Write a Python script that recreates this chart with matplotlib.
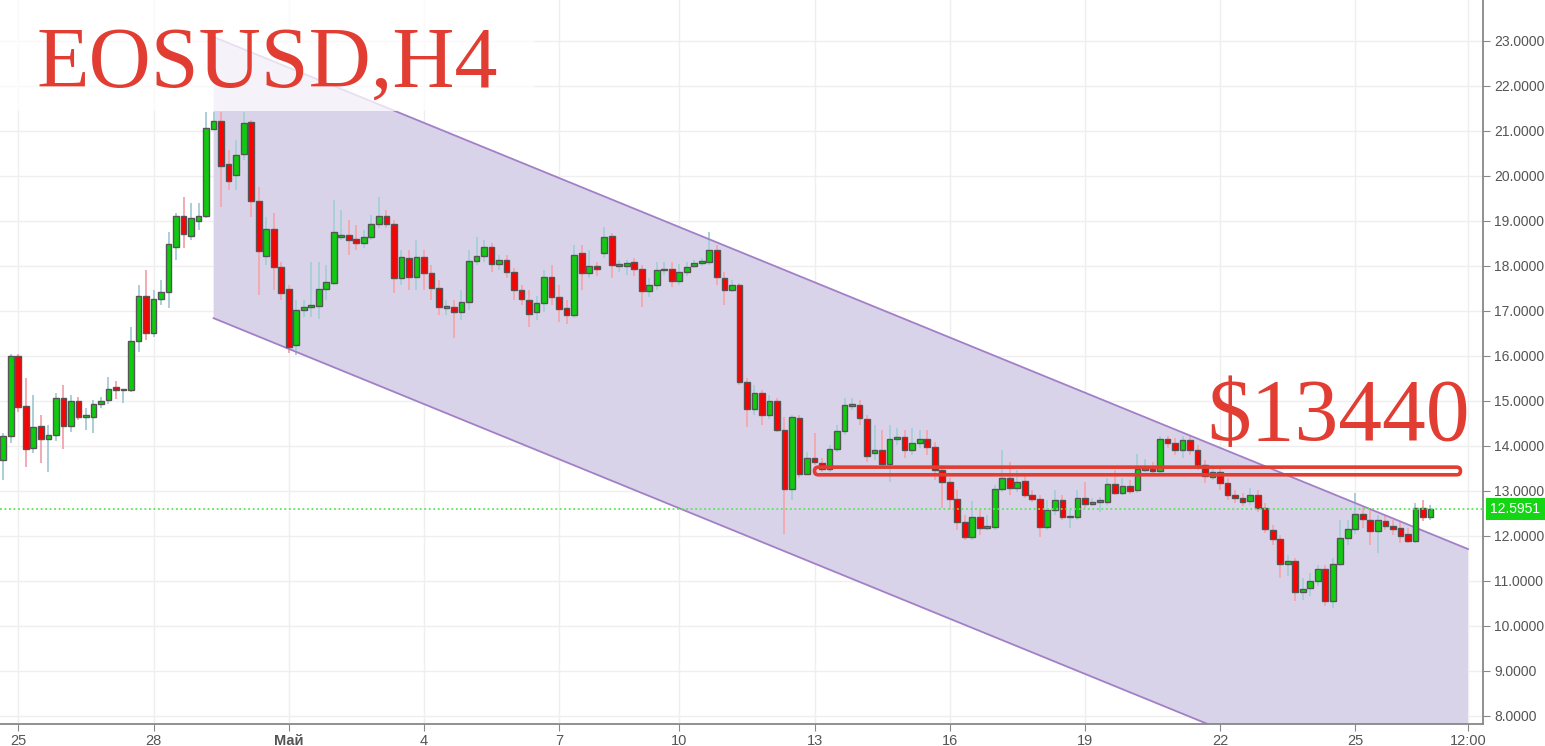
import numpy as np
import matplotlib
matplotlib.use("Agg")
import matplotlib.pyplot as plt
import matplotlib.transforms as mtransforms
from matplotlib.patches import Rectangle, FancyBboxPatch

plt.rcParams['font.family'] = ['Liberation Sans Narrow', 'Liberation Sans', 'DejaVu Sans']

# EOSUSD H4 candles
opens = [13.69, 14.22, 16.00, 14.89, 13.96, 14.44, 14.16, 14.24, 15.07, 14.44,
         15.00, 14.64, 14.64, 14.93, 15.02, 15.31, 15.24, 15.24, 16.33, 17.33,
         16.51, 17.27, 17.42, 18.42, 19.11, 18.67, 19.00, 19.11, 21.04, 21.22,
         20.27, 20.02, 20.49, 21.20, 19.44, 18.22, 18.82, 17.98, 17.49, 16.24,
         17.02, 17.09, 17.11, 17.49, 17.62, 18.64, 18.69, 18.60, 18.51, 18.64,
         18.93, 19.11, 18.93, 17.73, 18.18, 17.76, 18.20, 17.84, 17.51, 17.07,
         17.09, 16.98, 17.20, 18.11, 18.22, 18.42, 18.04, 18.13, 17.87, 17.47,
         17.24, 16.98, 17.18, 17.76, 17.31, 17.07, 16.91, 18.29, 17.84, 18.00,
         18.29, 18.67, 18.00, 18.00, 18.09, 17.93, 17.44, 17.58, 17.91, 17.93,
         17.67, 17.87, 18.00, 18.07, 18.09, 18.36, 17.73, 17.47, 17.58, 15.42,
         14.82, 15.18, 14.69, 15.00, 14.36, 13.04, 14.62, 13.38, 13.73, 13.62,
         13.49, 13.93, 14.33, 14.89, 14.91, 14.60, 13.84, 13.91, 13.60, 14.16,
         14.20, 13.91, 14.07, 14.16, 13.98, 13.47, 13.20, 12.82, 12.31, 11.98,
         12.42, 12.18, 12.20, 13.04, 13.29, 13.07, 13.22, 12.91, 12.82, 12.20,
         12.58, 12.80, 12.42, 12.42, 12.84, 12.71, 12.76, 12.76, 13.16, 12.96,
         13.11, 13.02, 13.47, 13.49, 13.44, 14.16, 14.07, 13.91, 14.13, 13.91,
         13.58, 13.31, 13.42, 13.18, 12.91, 12.84, 12.78, 12.91, 12.62, 12.13,
         11.93, 11.38, 11.44, 10.76, 10.84, 11.00, 11.27, 10.56, 11.38, 11.96,
         12.16, 12.49, 12.36, 12.11, 12.33, 12.22, 12.18, 12.04, 11.89, 12.62,
         12.42]
closes = [14.22, 16.00, 14.87, 13.93, 14.42, 14.16, 14.24, 15.07, 14.44, 15.00,
          14.64, 14.69, 14.93, 15.00, 15.27, 15.24, 15.27, 16.33, 17.33, 16.51,
          17.27, 17.42, 18.49, 19.11, 18.71, 19.07, 19.11, 21.07, 21.22, 20.22,
          19.89, 20.47, 21.18, 19.44, 18.33, 18.82, 17.98, 17.40, 16.20, 17.02,
          17.09, 17.13, 17.49, 17.64, 18.76, 18.69, 18.58, 18.51, 18.64, 18.93,
          19.11, 18.93, 17.73, 18.20, 17.76, 18.20, 17.84, 17.51, 17.09, 17.09,
          16.98, 17.20, 18.11, 18.22, 18.42, 18.04, 18.13, 17.87, 17.47, 17.27,
          16.93, 17.18, 17.76, 17.31, 17.04, 16.91, 18.24, 17.84, 18.00, 17.93,
          18.64, 18.02, 18.04, 18.07, 17.93, 17.44, 17.58, 17.91, 17.93, 17.67,
          17.87, 17.98, 18.07, 18.09, 18.36, 17.76, 17.47, 17.58, 15.42, 14.82,
          15.18, 14.69, 15.00, 14.36, 13.04, 14.64, 13.38, 13.73, 13.64, 13.49,
          13.93, 14.33, 14.91, 14.93, 14.62, 13.78, 13.91, 13.60, 14.16, 14.20,
          13.91, 14.07, 14.16, 13.98, 13.47, 13.20, 12.82, 12.31, 11.98, 12.42,
          12.18, 12.22, 13.04, 13.29, 13.07, 13.20, 12.91, 12.82, 12.20, 12.58,
          12.80, 12.42, 12.44, 12.84, 12.71, 12.76, 12.78, 13.16, 12.96, 13.11,
          13.00, 13.49, 13.49, 13.44, 14.16, 14.07, 13.91, 14.13, 13.91, 13.58,
          13.33, 13.42, 13.18, 12.91, 12.84, 12.76, 12.91, 12.62, 12.16, 11.93,
          11.38, 11.44, 10.76, 10.82, 11.00, 11.27, 10.56, 11.38, 11.96, 12.16,
          12.49, 12.38, 12.11, 12.36, 12.22, 12.16, 12.00, 11.89, 12.62, 12.42,
          12.5951]
highs = [14.29, 16.04, 16.04, 15.51, 15.13, 14.69, 14.47, 15.18, 15.36, 15.13,
         15.09, 14.84, 15.02, 15.09, 15.53, 15.44, 15.27, 16.64, 17.58, 17.91,
         17.47, 17.69, 18.76, 19.18, 19.53, 19.40, 19.40, 21.42, 21.42, 21.42,
         20.58, 20.80, 21.42, 21.24, 19.76, 19.09, 19.18, 18.09, 17.58, 17.24,
         17.24, 18.09, 18.09, 18.02, 19.47, 19.24, 19.02, 18.91, 18.80, 19.13,
         19.53, 19.24, 19.02, 18.36, 18.36, 18.58, 18.36, 18.02, 17.69, 17.24,
         17.24, 17.47, 18.36, 18.64, 18.58, 18.51, 18.24, 18.24, 17.96, 17.58,
         17.47, 17.33, 17.91, 18.02, 17.58, 17.24, 18.47, 18.47, 18.36, 18.09,
         18.87, 18.73, 18.13, 18.13, 18.18, 18.02, 17.73, 18.09, 18.09, 18.09,
         18.04, 18.09, 18.13, 18.18, 18.76, 18.47, 17.87, 17.69, 17.62, 15.51,
         15.36, 15.24, 15.13, 15.07, 14.64, 14.69, 14.69, 13.87, 14.29, 13.73,
         14.02, 14.47, 15.07, 15.07, 15.02, 14.69, 14.47, 14.36, 14.47, 14.40,
         14.36, 14.40, 14.36, 14.36, 14.09, 13.58, 13.29, 13.02, 12.47, 12.78,
         12.58, 12.47, 13.13, 13.91, 13.64, 13.47, 13.36, 13.02, 12.91, 12.80,
         13.02, 12.91, 12.58, 13.02, 13.20, 12.84, 12.87, 13.29, 13.47, 13.29,
         13.24, 13.82, 13.71, 13.64, 14.22, 14.22, 14.18, 14.22, 14.22, 14.02,
         13.69, 13.51, 13.51, 13.29, 13.02, 12.96, 13.07, 13.02, 12.73, 12.24,
         12.02, 11.58, 11.51, 11.07, 11.18, 11.36, 11.36, 11.51, 12.36, 12.36,
         12.96, 12.67, 12.62, 12.47, 12.47, 12.36, 12.31, 12.18, 12.73, 12.80,
         12.69]
lows = [13.24, 14.07, 14.76, 13.53, 13.84, 13.62, 13.42, 14.11, 13.93, 14.31,
        14.58, 14.36, 14.29, 14.84, 14.93, 15.04, 14.96, 15.20, 16.09, 16.36,
        16.42, 17.13, 17.07, 18.13, 18.40, 18.58, 18.80, 19.07, 21.02, 19.31,
        19.69, 19.69, 20.36, 19.09, 17.36, 18.02, 17.47, 17.24, 16.07, 16.02,
        16.87, 16.87, 16.82, 17.24, 17.58, 18.58, 18.24, 18.36, 18.40, 18.58,
        18.84, 18.84, 17.40, 17.58, 17.47, 17.47, 17.47, 17.24, 16.91, 16.91,
        16.40, 16.80, 17.02, 18.02, 18.09, 17.87, 17.91, 17.73, 17.24, 17.13,
        16.64, 16.80, 16.98, 17.13, 16.76, 16.71, 16.84, 17.47, 17.73, 17.78,
        18.18, 17.73, 17.87, 17.80, 17.78, 17.09, 17.31, 17.47, 17.80, 17.53,
        17.58, 17.78, 17.96, 18.00, 18.02, 17.58, 17.13, 17.42, 15.36, 14.42,
        14.69, 14.47, 14.60, 14.31, 12.04, 12.80, 13.29, 13.36, 13.58, 13.42,
        13.42, 13.87, 14.24, 14.80, 14.47, 13.64, 13.69, 13.51, 13.20, 14.02,
        13.73, 13.80, 13.96, 13.80, 13.24, 12.62, 12.58, 12.13, 11.91, 11.91,
        12.02, 12.13, 12.13, 12.98, 12.91, 12.98, 12.84, 12.76, 11.98, 12.13,
        12.47, 12.36, 12.18, 12.36, 12.62, 12.67, 12.53, 12.69, 12.91, 12.91,
        12.93, 12.96, 13.42, 13.38, 13.38, 13.96, 13.80, 13.73, 13.80, 13.47,
        13.18, 13.24, 13.02, 12.80, 12.73, 12.67, 12.69, 12.53, 12.07, 11.80,
        11.07, 11.11, 10.56, 10.58, 10.67, 10.89, 10.44, 10.40, 11.33, 11.80,
        12.04, 12.18, 11.80, 11.62, 12.13, 12.02, 11.84, 11.84, 11.84, 12.33,
        12.36]

tick_pos = [2, 20, 38, 56, 74, 90, 108, 126, 144, 162, 180, 195]
tick_labels = ["25", "28", "Май", "4", "7", "10", "13", "16", "19", "22", "25", "12:00"]

# descending channel (bar index, price)
chan_x = [28, 195]
chan_upper = [23.09, 11.71]
chan_lower = [16.84, 5.46]

level_lo, level_hi = 13.36, 13.53
level_x = [108, 194]
last_price = 12.5951

o = np.array(opens); c = np.array(closes)
h = np.maximum(np.array(highs), np.maximum(o, c))
l = np.minimum(np.array(lows), np.minimum(o, c))
x = np.arange(len(o))
up = c >= o

fig = plt.figure(figsize=(15.45, 7.46), dpi=100)
ax = fig.add_axes([0, 22 / 746, 1483 / 1545, 724 / 746])
ax.set_xlim(-0.44, 197.0)
ax.set_ylim(7.822, 23.911)

# channel
ax.fill_between(chan_x, chan_lower, chan_upper, color="#d9d3e9", lw=0, zorder=1)
ax.plot(chan_x, chan_upper, color="#a27fc6", lw=1.3, zorder=2.5)
ax.plot(chan_x, chan_lower, color="#a27fc6", lw=1.3, zorder=2.5)

# candles
wick_col = np.where(up, "#a9cfd8", "#f3a9b2")
ax.vlines(x, l, h, colors=wick_col, lw=1.4, zorder=2)
body_bot = np.minimum(o, c)
body_h = np.maximum(np.abs(c - o), 0.03)
ax.bar(x, body_h, bottom=body_bot, width=0.76,
       color=np.where(up, "#0dcc0d", "#ff0000"), edgecolor="#555555", lw=1.0, zorder=3)

# current price
ax.axhline(last_price, color="#5fe35f", ls=(0, (1, 1.5)), lw=1.3, zorder=4)
trans = mtransforms.blended_transform_factory(ax.transAxes, ax.transData)
ax.text(1.005, last_price, f"{last_price:.4f}", transform=trans, ha="left", va="center",
        color="white", fontsize=10, clip_on=False, zorder=10,
        bbox=dict(boxstyle="square,pad=0.3", fc="#14d614", ec="none"))

# highlighted level
ax.add_patch(FancyBboxPatch((level_x[0], level_lo), level_x[1] - level_x[0], level_hi - level_lo,
                            boxstyle="round,pad=0,rounding_size=0.5", mutation_aspect=0.1668,
                            fill=False, ec="#e23d32", lw=2.6, zorder=6))

# title with translucent backing
ax.add_patch(Rectangle((0, 0.847), 0.36, 0.153, transform=ax.transAxes,
                       fc="white", ec="none", alpha=0.75, zorder=5))
ax.text(0.0243, 0.880, "EOSUSD,H4", transform=ax.transAxes, fontsize=62, color="#e23d32",
        family=["Liberation Serif", "DejaVu Serif"], va="baseline", ha="left", zorder=7)
ax.text(0.814, 0.392, "$13440", transform=ax.transAxes, fontsize=63, color="#e23d32",
        family=["Liberation Serif", "DejaVu Serif"], va="baseline", ha="left", zorder=7)

# axes styling
ax.yaxis.tick_right()
ax.set_yticks(np.arange(8, 24))
ax.set_yticklabels([f"{v:.4f}" for v in np.arange(8, 24)])
ax.set_xticks(tick_pos)
ax.set_xticklabels(tick_labels)
for lab in ax.get_xticklabels():
    if lab.get_text() == "Май":
        lab.set_fontweight("bold")
ax.tick_params(axis="y", length=5, color="#888888", labelcolor="#555555", labelsize=10, pad=3)
ax.tick_params(axis="x", length=5, color="#888888", labelcolor="#555555", labelsize=10.5, pad=2)
for s in ["top", "left"]:
    ax.spines[s].set_visible(False)
for s in ["right", "bottom"]:
    ax.spines[s].set_color("#888888")
    ax.spines[s].set_linewidth(1.3)
ax.grid(True, color="#efefef", lw=1, zorder=0)
ax.set_axisbelow(True)

fig.savefig("out.png", dpi=100)
